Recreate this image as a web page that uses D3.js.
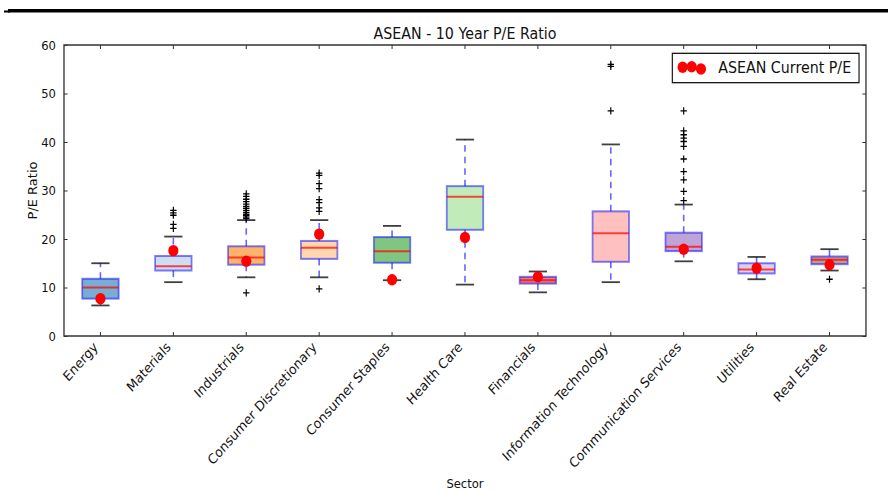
<!DOCTYPE html>
<html>
<head>
<meta charset="utf-8">
<script src="https://cdn.jsdelivr.net/npm/d3@7/dist/d3.min.js"></script>
<style>
  html, body { margin: 0; padding: 0; background: #fff; }
  svg { display: block; font-family: "DejaVu Sans", sans-serif; }
</style>
</head>
<body>
<svg id="chart" width="888" height="492"></svg>
<script>
// ---- data -------------------------------------------------------------
const categories = ["Energy", "Materials", "Industrials", "Consumer Discretionary",
  "Consumer Staples", "Health Care", "Financials", "Information Technology",
  "Communication Services", "Utilities", "Real Estate"];

const whiskerLow  = [6.3, 11.1, 12.1, 12.1, 11.5, 10.6,  9.0, 11.1, 15.4, 11.7, 13.5];
const q1          = [7.7, 13.5, 14.7, 15.9, 15.1, 21.9, 10.8, 15.3, 17.5, 12.9, 14.8];
const medians     = [10.0, 14.4, 16.2, 18.2, 17.5, 28.7, 11.5, 21.2, 18.4, 13.7, 15.7];
const q3          = [11.8, 16.5, 18.5, 19.6, 20.4, 30.9, 12.2, 25.7, 21.3, 15.0, 16.4];
const whiskerHigh = [15.0, 20.5, 23.9, 23.9, 22.7, 40.5, 13.3, 39.5, 27.1, 16.3, 17.9];

const outliers = [
  [],
  [25.9, 25.4, 24.9, 23.0, 22.2],
  [29.3, 28.8, 28.2, 27.7, 27.2, 26.7, 26.3, 25.9, 25.5, 25.1, 24.8, 24.5, 24.2, 8.9],
  [33.6, 33.1, 31.4, 30.4, 28.1, 27.5, 26.4, 25.7, 9.7],
  [],
  [],
  [],
  [56.0, 55.6, 46.4],
  [46.4, 42.3, 41.5, 40.8, 40.1, 39.1, 36.5, 33.9, 32.2, 29.8, 27.9],
  [],
  [11.7]
];

// current P/E per sector (no reading for Information Technology)
const currentPE = [7.7, 17.6, 15.4, 21.0, 11.6, 20.3, 12.2, null, 17.9, 14.0, 14.7];

const yTicks = [0, 10, 20, 30, 40, 50, 60];
const boxColors = ["#1f77b4", "#aec7e8", "#ff7f0e", "#ffbb78", "#2ca02c", "#98df8a",
  "#d62728", "#ff9896", "#9467bd", "#c5b0d5", "#8c564b"];

const titleText = "ASEAN - 10 Year P/E Ratio";
const xLabel = "Sector";
const yLabel = "P/E Ratio";
const legendLabel = "ASEAN Current P/E";

// ---- layout -----------------------------------------------------------
// The figure is laid out on a wider canvas and compressed horizontally.
const SX = 0.89;
const plot = { left: 71.9, right: 973.0, top: 45, bottom: 336 };

const svg = d3.select("#chart");

// thick rule across the top of the page
svg.append("rect").attr("x", 8).attr("y", 9).attr("width", 880).attr("height", 3.5).attr("fill", "#000");
svg.append("rect").attr("x", 4).attr("y", 10.5).attr("width", 6).attr("height", 2).attr("fill", "#000");

const root = svg.append("g").attr("transform", `scale(${SX},1)`);

const x = d3.scaleBand().domain(categories).range([plot.left, plot.right]).paddingInner(0).paddingOuter(0);
const y = d3.scaleLinear().domain([0, 60]).range([plot.bottom, plot.top]);
const cx = c => x(c) + x.bandwidth() / 2;
const boxW = x.bandwidth() * 0.5;
const capW = boxW * 0.5;

const rows = categories.map((c, i) => ({
  c, i, lo: whiskerLow[i], q1: q1[i], med: medians[i], q3: q3[i], hi: whiskerHigh[i],
  out: outliers[i], cur: currentPE[i], color: boxColors[i]
}));

// ---- axes -------------------------------------------------------------
const axisColor = "#222";
function styleAxis(g) {
  g.select(".domain").remove();
  g.selectAll(".tick line").attr("stroke", axisColor).attr("stroke-width", 1);
}

root.append("g").attr("transform", `translate(${plot.left},0)`)
  .call(d3.axisLeft(y).tickValues(yTicks).tickSize(-4).tickPadding(9))
  .call(styleAxis)
  .call(g => g.selectAll("text").attr("font-size", 13).attr("fill", "#111")
    .attr("font-family", "DejaVu Sans"));

root.append("g").attr("transform", `translate(${plot.right},0)`)
  .call(d3.axisRight(y).tickValues(yTicks).tickSize(-4).tickFormat(""))
  .call(styleAxis);

root.append("g").attr("transform", `translate(0,${plot.top})`)
  .call(d3.axisTop(x).tickSize(-4).tickFormat(""))
  .call(styleAxis);

const xAxis = root.append("g").attr("transform", `translate(0,${plot.bottom})`)
  .call(d3.axisBottom(x).tickSize(-4))
  .call(styleAxis);
xAxis.selectAll("text")
  .attr("font-size", 13.8).attr("fill", "#111").attr("font-family", "DejaVu Sans")
  .attr("text-anchor", "end").attr("dy", null).attr("y", null)
  .attr("transform", "translate(-2,12) rotate(-45)");

// frame
root.append("rect")
  .attr("x", plot.left).attr("y", plot.top)
  .attr("width", plot.right - plot.left).attr("height", plot.bottom - plot.top)
  .attr("fill", "none").attr("stroke", "#333").attr("stroke-width", 1.5);

// ---- boxes ------------------------------------------------------------
const boxes = root.append("g");
const g = boxes.selectAll("g.box").data(rows).join("g").attr("class", "box");

// whiskers (dashed, drawn outward from the box)
g.append("line")
  .attr("x1", d => cx(d.c)).attr("x2", d => cx(d.c))
  .attr("y1", d => y(d.q3)).attr("y2", d => y(d.hi))
  .attr("stroke", "#0000ff").attr("stroke-opacity", 0.6).attr("stroke-width", 1.8)
  .attr("stroke-dasharray", "6.5,5");
g.append("line")
  .attr("x1", d => cx(d.c)).attr("x2", d => cx(d.c))
  .attr("y1", d => y(d.q1)).attr("y2", d => y(d.lo))
  .attr("stroke", "#0000ff").attr("stroke-opacity", 0.6).attr("stroke-width", 1.8)
  .attr("stroke-dasharray", "6.5,5");

// caps
["lo", "hi"].forEach(k => {
  g.append("line")
    .attr("x1", d => cx(d.c) - capW / 2).attr("x2", d => cx(d.c) + capW / 2)
    .attr("y1", d => y(d[k])).attr("y2", d => y(d[k]))
    .attr("stroke", "#000").attr("stroke-opacity", 0.75).attr("stroke-width", 1.8);
});

// box bodies
g.append("rect")
  .attr("x", d => cx(d.c) - boxW / 2).attr("width", boxW)
  .attr("y", d => y(d.q3)).attr("height", d => y(d.q1) - y(d.q3))
  .attr("fill", d => d.color).attr("fill-opacity", 0.6)
  .attr("stroke", "#0000ff").attr("stroke-opacity", 0.5).attr("stroke-width", 2);

// medians
g.append("line")
  .attr("x1", d => cx(d.c) - boxW / 2).attr("x2", d => cx(d.c) + boxW / 2)
  .attr("y1", d => y(d.med)).attr("y2", d => y(d.med))
  .attr("stroke", "#ff0000").attr("stroke-opacity", 0.7).attr("stroke-width", 2);

// fliers as '+'
const fl = 3.6;
g.selectAll("path.flier").data(d => d.out.map(v => ({ c: d.c, v }))).join("path")
  .attr("class", "flier")
  .attr("d", p => {
    const px = cx(p.c), py = y(p.v);
    return `M${px - fl},${py}H${px + fl}M${px},${py - fl}V${py + fl}`;
  })
  .attr("stroke", "#000").attr("stroke-width", 1.3).attr("fill", "none");

// current P/E markers
root.append("g").selectAll("circle").data(rows.filter(d => d.cur != null)).join("circle")
  .attr("cx", d => cx(d.c)).attr("cy", d => y(d.cur)).attr("r", 5.7)
  .attr("fill", "#ff0000");

// ---- labels -----------------------------------------------------------
root.append("text")
  .attr("x", (plot.left + plot.right) / 2).attr("y", 39)
  .attr("text-anchor", "middle").attr("font-size", 16).attr("fill", "#111")
  .text(titleText);

root.append("text")
  .attr("transform", `translate(37,${(plot.top + plot.bottom) / 2}) rotate(-90)`)
  .attr("text-anchor", "middle").attr("dy", "0.35em").attr("font-size", 13).attr("fill", "#111")
  .text(yLabel);

root.append("text")
  .attr("x", (plot.left + plot.right) / 2).attr("y", 488)
  .attr("text-anchor", "middle").attr("font-size", 13).attr("fill", "#111")
  .text(xLabel);

// ---- legend -----------------------------------------------------------
const legend = root.append("g");
legend.append("rect")
  .attr("x", 755.4).attr("y", 53.3).attr("width", 209.8).attr("height", 29.4)
  .attr("fill", "#fff").attr("stroke", "#000").attr("stroke-width", 1.2);
const legendDots = [[767, 67.3], [777.2, 66.7], [787.6, 69]];
legend.selectAll("circle").data(legendDots).join("circle")
  .attr("cx", d => d[0]).attr("cy", d => d[1]).attr("r", 5.7).attr("fill", "#ff0000");
legend.append("text")
  .attr("x", 807).attr("y", 72.7).attr("font-size", 16).attr("fill", "#111")
  .text(legendLabel);
</script>
</body>
</html>
